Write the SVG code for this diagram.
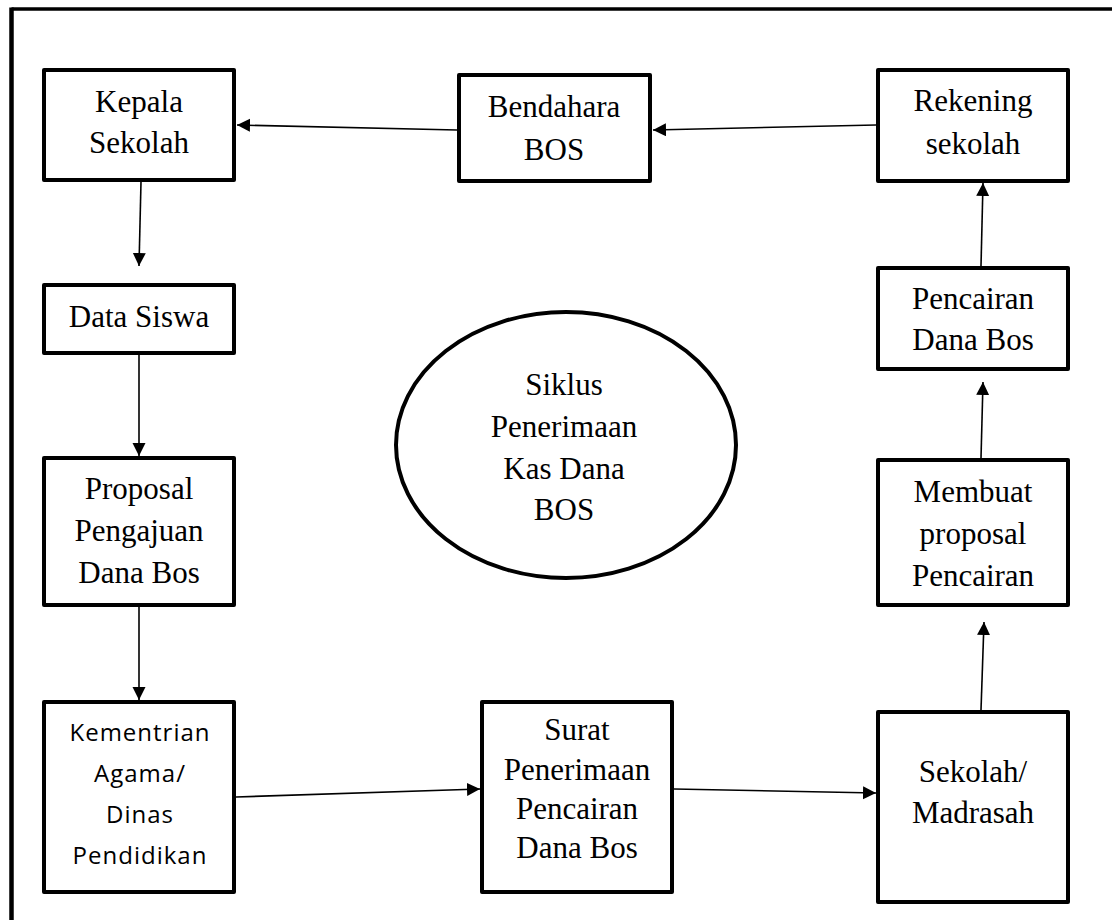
<svg xmlns="http://www.w3.org/2000/svg" width="1112" height="920" viewBox="0 0 1112 920">
<defs>
<marker id="ah" markerUnits="userSpaceOnUse" markerWidth="14" markerHeight="14" refX="13" refY="6.5" orient="auto">
<path d="M0,0 L13,6.5 L0,13 z" fill="#000"/>
</marker>
<style>
.box{fill:#fff;stroke:#000;stroke-width:4;stroke-linejoin:round}
.t{font-family:"Liberation Serif","Times New Roman",serif;font-size:31px;fill:#000;text-anchor:middle}
.s{font-family:"Open Sans","Liberation Sans",sans-serif;font-size:24px;letter-spacing:1px;fill:#000;text-anchor:middle}
.c{fill:none;stroke:#000;stroke-width:1.6;marker-end:url(#ah)}
</style>
</defs>
<rect width="1112" height="920" fill="#fff"/>
<g id="frame">
<line x1="11.5" y1="9" x2="1112" y2="9" stroke="#000" stroke-width="3.5"/>
<line x1="11.5" y1="7.5" x2="11.5" y2="920" stroke="#000" stroke-width="4.5"/>
</g>
<g id="connectors">
<line class="c" x1="457" y1="130" x2="237" y2="125"/>
<line class="c" x1="876" y1="125" x2="653" y2="130"/>
<line class="c" x1="141" y1="182" x2="139" y2="266"/>
<line class="c" x1="139" y1="355" x2="139" y2="456"/>
<line class="c" x1="139" y1="607" x2="139" y2="700"/>
<line class="c" x1="236" y1="797" x2="480" y2="789"/>
<line class="c" x1="674" y1="789" x2="876" y2="793"/>
<line class="c" x1="981" y1="710" x2="984" y2="622"/>
<line class="c" x1="981" y1="458" x2="983" y2="382"/>
<line class="c" x1="981" y1="266" x2="983" y2="183"/>
</g>
<g id="kepala-sekolah">
<rect class="box" x="44" y="70" width="190" height="110"/>
<text class="t" x="139" y="112">Kepala</text>
<text class="t" x="139" y="153">Sekolah</text>
</g>
<g id="bendahara-bos">
<rect class="box" x="459" y="75" width="191" height="106"/>
<text class="t" x="554" y="117">Bendahara</text>
<text class="t" x="554" y="160">BOS</text>
</g>
<g id="rekening-sekolah">
<rect class="box" x="878" y="70" width="190" height="111"/>
<text class="t" x="973" y="111">Rekening</text>
<text class="t" x="973" y="154">sekolah</text>
</g>
<g id="data-siswa">
<rect class="box" x="44" y="285" width="190" height="68"/>
<text class="t" x="139" y="327">Data Siswa</text>
</g>
<g id="pencairan-dana-bos">
<rect class="box" x="878" y="268" width="190" height="101"/>
<text class="t" x="973" y="309">Pencairan</text>
<text class="t" x="973" y="350">Dana Bos</text>
</g>
<g id="siklus">
<ellipse cx="566" cy="445" rx="170" ry="133" fill="#fff" stroke="#000" stroke-width="4"/>
<text class="t" x="564" y="395">Siklus</text>
<text class="t" x="564" y="437">Penerimaan</text>
<text class="t" x="564" y="479">Kas Dana</text>
<text class="t" x="564" y="520">BOS</text>
</g>
<g id="proposal">
<rect class="box" x="44" y="458" width="190" height="147"/>
<text class="t" x="139" y="499">Proposal</text>
<text class="t" x="139" y="541">Pengajuan</text>
<text class="t" x="139" y="583">Dana Bos</text>
</g>
<g id="membuat-proposal">
<rect class="box" x="878" y="460" width="190" height="145"/>
<text class="t" x="973" y="502">Membuat</text>
<text class="t" x="973" y="544">proposal</text>
<text class="t" x="973" y="586">Pencairan</text>
</g>
<g id="kementrian">
<rect class="box" x="44" y="702" width="190" height="190"/>
<text class="s" x="140" y="741">Kementrian</text>
<text class="s" x="140" y="782">Agama/</text>
<text class="s" x="140" y="823">Dinas</text>
<text class="s" x="140" y="864">Pendidikan</text>
</g>
<g id="surat">
<rect class="box" x="482" y="702" width="190" height="190"/>
<text class="t" x="577" y="740">Surat</text>
<text class="t" x="577" y="780">Penerimaan</text>
<text class="t" x="577" y="819">Pencairan</text>
<text class="t" x="577" y="858">Dana Bos</text>
</g>
<g id="sekolah-madrasah">
<rect class="box" x="878" y="712" width="190" height="190"/>
<text class="t" x="973" y="782">Sekolah/</text>
<text class="t" x="973" y="823">Madrasah</text>
</g>
</svg>
